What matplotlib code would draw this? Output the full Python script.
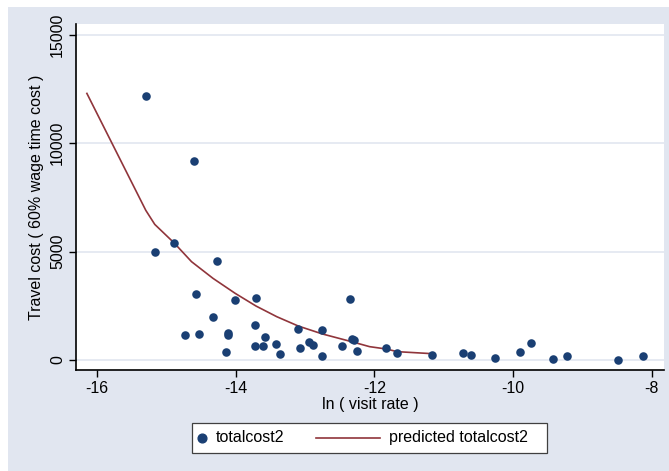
import matplotlib.pyplot as plt
from matplotlib.patches import Rectangle
from matplotlib.lines import Line2D

plt.rcParams['font.family'] = ['Liberation Sans', 'DejaVu Sans']
plt.rcParams['axes.unicode_minus'] = False

BG = '#e1e6f0'
NAVY = '#1a3f73'
MAROON = '#90353b'
W, H = 669, 471

# observed points: ln(visit rate), travel cost
ln_visit = [-15.30, -14.61, -15.17, -14.89, -14.27, -14.58, -14.01, -13.71,
            -12.36, -14.33, -14.73, -14.53, -14.11, -14.12, -14.14, -13.72,
            -13.72, -13.61, -13.58, -13.42, -13.37, -13.10, -13.07, -12.95,
            -12.88, -12.75, -12.75, -12.47, -12.33, -12.29, -12.25, -11.83,
            -11.67, -11.17, -10.72, -10.60, -10.26, -9.90, -9.74, -9.43,
            -9.22, -8.49, -8.13]
totalcost2 = [12170, 9174, 4965, 5394, 4564, 3028, 2780, 2872,
              2826, 1982, 1152, 1199, 1230, 1170, 355, 1613,
              660, 660, 1075, 722, 262, 1445, 569, 830,
              676, 1368, 200, 645, 983, 922, 430, 538,
              307, 230, 322, 230, 92, 355, 768, 46,
              169, 15, 169]

# fitted curve
pred_x = [-16.15, -15.30, -15.17, -14.89, -14.64, -14.33, -14.01, -13.71,
          -13.41, -13.10, -12.75, -12.33, -12.07, -11.83, -11.67, -11.17]
pred_y = [12290, 6900, 6250, 5394, 4533, 3764, 3073, 2489,
          1997, 1567, 1199, 845, 615, 507, 384, 292]

fig = plt.figure(figsize=(W / 100, H / 100), dpi=100, facecolor='white')
# outer graph region (thin white edge on the left/top)
fig.patches.append(Rectangle((8 / W, 0), 1, 1 - 7 / H, transform=fig.transFigure,
                             facecolor=BG, edgecolor='none', zorder=-10))

ax = fig.add_axes([76 / W, 101 / H, 588 / W, 346 / H])
ax.set_facecolor('white')

for y in (0, 5000, 10000, 15000):
    ax.axhline(y, color=BG, lw=1.2, zorder=1)

ax.scatter(ln_visit, totalcost2, s=38, color=NAVY, zorder=3, linewidths=0)
ax.plot(pred_x, pred_y, color=MAROON, lw=1.2, zorder=2)

ax.set_xlim(-16.307, -7.822)
ax.set_ylim(-461, 15490)
ax.set_xticks([-16, -14, -12, -10, -8])
ax.set_yticks([0, 5000, 10000, 15000])
ax.set_yticklabels(['0', '5000', '10000', '15000'], rotation=90, va='center')
ax.tick_params(direction='out', length=5, width=1, labelsize=11.5, pad=3)

for s in ('top', 'right'):
    ax.spines[s].set_visible(False)
ax.spines['left'].set_linewidth(1.2)
ax.spines['bottom'].set_linewidth(1.2)

ax.set_xlabel('ln ( visit rate )', fontsize=11.5, labelpad=1)
ax.set_ylabel('Travel cost ( 60% wage time cost )', fontsize=11.5, labelpad=4)

# legend drawn by hand: short marker key, long line key
def fx(px):
    return px / W

def fy(py):
    return 1 - py / H

fig.patches.append(Rectangle((fx(191.7), fy(452.7)), fx(547.3) - fx(191.7),
                             fy(422.7) - fy(452.7), transform=fig.transFigure,
                             facecolor='white', edgecolor='#404040', lw=0.9))
ly = fy(437.7)
fig.lines.append(Line2D([fx(201.7)], [ly], marker='o', color=NAVY, markersize=6.3,
                        linestyle='none', transform=fig.transFigure))
fig.text(fx(216), ly, 'totalcost2', fontsize=11.5, va='center', ha='left')
fig.lines.append(Line2D([fx(315.7), fx(380)], [ly, ly], color=MAROON, lw=1.2,
                        transform=fig.transFigure))
fig.text(fx(389), ly, 'predicted totalcost2', fontsize=11.5, va='center', ha='left')

fig.savefig('out.png', dpi=100, facecolor='white')
